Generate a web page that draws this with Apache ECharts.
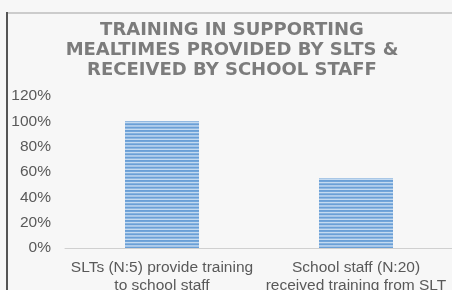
<!DOCTYPE html>
<html>
<head>
<meta charset="utf-8">
<script src="https://cdn.jsdelivr.net/npm/echarts@6/dist/echarts.min.js"></script>
<style>
  html, body { margin: 0; padding: 0; background: #f7f7f7; }
  #chart { width: 452px; height: 290px; }
</style>
</head>
<body>
<div id="chart"></div>
<script>
// data
var categories = ['SLTs (N:5) provide training\nto school staff', 'School staff (N:20)\nreceived training from SLT'];
var values = [1.00, 0.55];
var yTicks = [0, 0.2, 0.4, 0.6, 0.8, 1.0, 1.2];

// horizontal stripe fill like the excel pattern
function stripes() {
  var c = document.createElement('canvas');
  c.width = 4; c.height = 10;
  var ctx = c.getContext('2d');
  ctx.fillStyle = '#c3daf1';
  ctx.fillRect(0, 0, 4, 10);
  ctx.fillStyle = '#6a9fd6';
  ctx.fillRect(0, 0, 4, 1.9);
  ctx.fillRect(0, 3.33, 4, 1.9);
  ctx.fillRect(0, 6.67, 4, 1.9);
  return c;
}

var myChart = echarts.init(document.getElementById('chart'));
var option = {
  backgroundColor: '#f7f7f7',
  animation: false,
  title: {
    text: 'TRAINING IN SUPPORTING\nMEALTIMES PROVIDED BY SLTS &\nRECEIVED BY SCHOOL STAFF',
    left: 232,
    top: 20,
    textAlign: 'center',
    padding: 0,
    textStyle: {
      fontFamily: 'DejaVu Sans',
      fontWeight: 'bold',
      fontSize: 18,
      lineHeight: 20,
      color: '#7c7c7c'
    }
  },
  graphic: [
    { type: 'rect', shape: { x: 6, y: 12, width: 446, height: 2 }, style: { fill: '#cccccc' }, silent: true },
    { type: 'rect', shape: { x: 6, y: 12, width: 2, height: 278 }, style: { fill: '#555555' }, silent: true }
  ],
  grid: { left: 65, right: -1, top: 96, bottom: 42, outerBoundsMode: 'none', containLabel: false },
  xAxis: {
    type: 'category',
    data: categories,
    axisLine: { lineStyle: { color: '#d0d0d0', width: 1 } },
    axisTick: { show: false },
    axisLabel: {
      interval: 0,
      margin: 11,
      fontFamily: 'Liberation Sans, Arial',
      fontSize: 15.5,
      lineHeight: 18,
      color: '#595959'
    }
  },
  yAxis: {
    type: 'value',
    min: yTicks[0],
    max: yTicks[yTicks.length - 1],
    interval: 0.2,
    splitLine: { show: false },
    axisLine: { show: false },
    axisTick: { show: false },
    axisLabel: {
      margin: 14,
      fontFamily: 'Liberation Sans, Arial',
      fontSize: 15.5,
      color: '#595959',
      formatter: function (v) { return Math.round(v * 100) + '%'; }
    }
  },
  series: [{
    type: 'bar',
    data: values,
    barWidth: 74,
    itemStyle: { color: { image: stripes(), repeat: 'repeat' } }
  }]
};
myChart.setOption(option);
</script>
</body>
</html>
